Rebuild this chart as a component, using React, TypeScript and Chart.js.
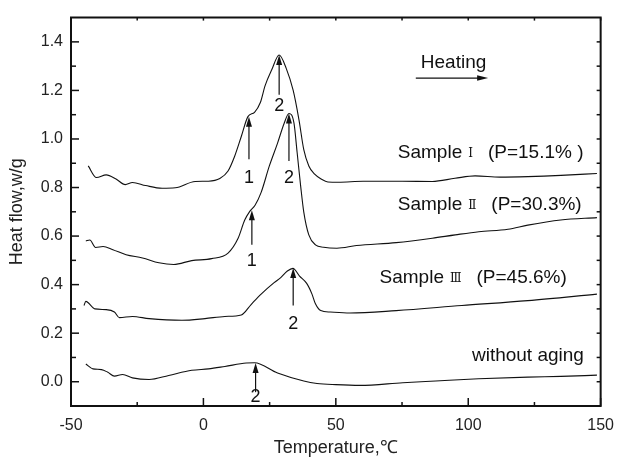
import React, { useEffect, useRef } from "react";
import { Chart, registerables } from "chart.js";

Chart.register(...registerables);

const FONT = "'Liberation Sans', Arial, Helvetica, sans-serif";
const SERIF = "'DejaVu Serif', 'Liberation Serif', serif";
const INK = "#111111";

// Axis ticks
const xTickValues = [-50, 0, 50, 100, 150];
const xMinorTickValues = [-25, 25, 75, 125];
const yTickValues = [0, 0.2, 0.4, 0.6, 0.8, 1.0, 1.2, 1.4];
const yMinorTickValues = [0.1, 0.3, 0.5, 0.7, 0.9, 1.1, 1.3];

// Sample I (P=15.1%)
const s1T = [-43.5, -40.4, -36.7, -33.0, -29.5, -26.8, -21.8, -15.6, -10.6, -3.1, 1.9, 6.2, 9.3, 11.8, 14.3, 16.8, 19.3, 21.5, 23.3, 25.8, 28.6, 31.3, 33.9, 36.1, 37.9, 39.8, 42.0, 44.5, 47.0, 51.0, 60.3, 75.0, 86.4, 95.0, 102.6, 112.0, 122.5, 135.0, 148.6];
const s1H = [0.889, 0.841, 0.852, 0.835, 0.812, 0.821, 0.808, 0.797, 0.799, 0.825, 0.826, 0.837, 0.868, 0.929, 1.010, 1.092, 1.110, 1.150, 1.220, 1.285, 1.346, 1.290, 1.200, 1.078, 0.956, 0.889, 0.855, 0.835, 0.823, 0.822, 0.826, 0.826, 0.825, 0.838, 0.848, 0.843, 0.845, 0.850, 0.858];

// Sample II (P=30.3%)
const s2T = [-44.4, -42.9, -40.7, -37.9, -34.2, -29.2, -23.0, -16.8, -11.2, -4.4, 3.1, 9.3, 13.1, 15.6, 17.5, 19.5, 21.8, 24.9, 28.0, 30.5, 32.3, 34.2, 35.4, 36.7, 37.9, 39.8, 42.3, 45.4, 50.4, 57.8, 72.8, 86.4, 95.1, 104.0, 115.0, 122.5, 134.9, 148.6];
const s2H = [0.580, 0.584, 0.553, 0.557, 0.544, 0.523, 0.510, 0.490, 0.483, 0.499, 0.507, 0.530, 0.591, 0.666, 0.702, 0.727, 0.780, 0.889, 0.983, 1.065, 1.105, 1.065, 0.943, 0.808, 0.699, 0.605, 0.564, 0.554, 0.550, 0.561, 0.573, 0.591, 0.605, 0.618, 0.628, 0.645, 0.666, 0.676];

// Sample III (P=45.6%)
const s3T = [-45.1, -44.4, -41.0, -36.7, -33.6, -31.7, -26.8, -20.5, -8.1, 0.6, 8.1, 14.3, 18.0, 21.8, 26.7, 29.2, 31.7, 33.8, 36.3, 39.0, 41.0, 42.3, 44.3, 47.9, 55.3, 72.8, 97.6, 122.5, 148.6];
const s3H = [0.314, 0.331, 0.300, 0.297, 0.287, 0.264, 0.269, 0.260, 0.253, 0.260, 0.269, 0.275, 0.318, 0.361, 0.408, 0.429, 0.456, 0.467, 0.435, 0.405, 0.361, 0.321, 0.293, 0.287, 0.283, 0.293, 0.314, 0.334, 0.361];

// Without aging
const s0T = [-44.4, -41.7, -38.5, -36.1, -33.6, -30.5, -26.8, -20.5, -13.1, -4.4, 1.9, 8.1, 16.2, 19.3, 28.0, 37.9, 42.9, 50.0, 59.1, 75.3, 87.7, 103.9, 122.5, 135.0, 148.6];
const s0H = [0.073, 0.053, 0.050, 0.039, 0.023, 0.030, 0.016, 0.009, 0.026, 0.047, 0.053, 0.063, 0.077, 0.078, 0.036, 0.003, -0.007, -0.012, -0.015, -0.004, 0.003, 0.012, 0.019, 0.022, 0.027];

// Peak markers (temperature, arrow tip, arrow base, label, label level)
const peakT = [28.6, 17.2, 32.3, 18.3, 33.9, 19.7];
const peakTip = [1.346, 1.092, 1.105, 0.706, 0.469, 0.077];
const peakBase = [1.182, 0.916, 0.909, 0.564, 0.314, -0.043];
const peakLabel = ["2", "1", "2", "1", "2", "2"];
const peakLabelH = [1.134, 0.841, 0.841, 0.497, 0.239, -0.065];

// Curve labels
const curvePrefix = ["Sample", "Sample", "Sample", "without aging"];
const curveNumeral = ["\u2160", "\u2161", "\u2162", ""];
const curveSuffix = ["(P=15.1% )", "(P=30.3%)", "(P=45.6%)", ""];
const curveLabelT = [73.4, 73.4, 66.5, 101.4];
const curveLabelH = [0.943, 0.730, 0.429, 0.105];

// Heating arrow
const heatingText = "Heating";
const heatingTextT = 82.1;
const heatingTextH = 1.312;
const heatingArrowT = [80.2, 107.5];
const heatingArrowH = 1.251;

const decorPlugin = {
  id: "decor",
  afterDatasetsDraw(chart: any) {
    const { ctx, chartArea } = chart;
    const xs = chart.scales.x;
    const ys = chart.scales.y;
    const { left, right, top, bottom } = chartArea;
    ctx.save();
    ctx.strokeStyle = INK;
    ctx.fillStyle = INK;
    ctx.lineCap = "butt";

    // frame
    ctx.lineWidth = 2;
    ctx.beginPath();
    ctx.moveTo(left, top);
    ctx.lineTo(right, top);
    ctx.lineTo(right, bottom);
    ctx.lineTo(left, bottom);
    ctx.closePath();
    ctx.stroke();

    ctx.lineWidth = 1.5;
    const line = (x1: number, y1: number, x2: number, y2: number) => {
      ctx.beginPath();
      ctx.moveTo(x1, y1);
      ctx.lineTo(x2, y2);
      ctx.stroke();
    };
    xTickValues.forEach((v) => {
      const px = xs.getPixelForValue(v);
      line(px, bottom, px, bottom - 8);
      line(px, top, px, top + 3);
    });
    xMinorTickValues.forEach((v) => {
      const px = xs.getPixelForValue(v);
      line(px, bottom, px, bottom - 4);
      line(px, top, px, top + 3);
    });
    yTickValues.forEach((v) => {
      const py = ys.getPixelForValue(v);
      line(left, py, left + 8, py);
      line(right, py, right - 4, py);
    });
    yMinorTickValues.forEach((v) => {
      const py = ys.getPixelForValue(v);
      line(left, py, left + 5, py);
      line(right, py, right - 4, py);
    });

    // peak arrows
    ctx.lineWidth = 1.2;
    peakT.forEach((t, i) => {
      const px = xs.getPixelForValue(t);
      const pTip = ys.getPixelForValue(peakTip[i]);
      const pBase = ys.getPixelForValue(peakBase[i]);
      line(px, pBase, px, pTip + 8);
      ctx.beginPath();
      ctx.moveTo(px, pTip);
      ctx.lineTo(px - 3, pTip + 10);
      ctx.lineTo(px + 3, pTip + 10);
      ctx.closePath();
      ctx.fill();
      ctx.font = `18px ${FONT}`;
      ctx.textAlign = "center";
      ctx.textBaseline = "middle";
      ctx.fillText(peakLabel[i], px, ys.getPixelForValue(peakLabelH[i]));
    });

    // curve labels
    ctx.textAlign = "left";
    ctx.textBaseline = "middle";
    curvePrefix.forEach((s, i) => {
      const x0 = xs.getPixelForValue(curveLabelT[i]);
      const y0 = ys.getPixelForValue(curveLabelH[i]);
      ctx.font = `19px ${FONT}`;
      ctx.fillText(s, x0, y0);
      if (!curveNumeral[i]) return;
      let x = x0 + ctx.measureText(s).width + 6;
      ctx.font = `12px ${SERIF}`;
      ctx.fillText(curveNumeral[i], x, y0 + 1);
      x += ctx.measureText(curveNumeral[i]).width + 15;
      ctx.font = `19px ${FONT}`;
      ctx.fillText(curveSuffix[i], x, y0);
    });

    // heating
    ctx.font = `19px ${FONT}`;
    ctx.fillText(heatingText, xs.getPixelForValue(heatingTextT), ys.getPixelForValue(heatingTextH));
    const hx1 = xs.getPixelForValue(heatingArrowT[0]);
    const hx2 = xs.getPixelForValue(heatingArrowT[1]);
    const hy = ys.getPixelForValue(heatingArrowH);
    ctx.lineWidth = 1.2;
    line(hx1, hy, hx2 - 8, hy);
    ctx.beginPath();
    ctx.moveTo(hx2, hy);
    ctx.lineTo(hx2 - 11, hy - 2.8);
    ctx.lineTo(hx2 - 11, hy + 2.8);
    ctx.closePath();
    ctx.fill();

    ctx.restore();
  },
};

export default function App() {
  const ref = useRef<HTMLCanvasElement | null>(null);

  useEffect(() => {
    const canvas = ref.current;
    if (!canvas) return;
    const mk = (T: number[], H: number[]) => T.map((t, i) => ({ x: t, y: H[i] }));
    const ds = (label: string, T: number[], H: number[]) => ({
      label,
      data: mk(T, H),
      borderColor: INK,
      borderWidth: 1.1,
      pointRadius: 0,
      fill: false,
      cubicInterpolationMode: "monotone" as const,
    });
    const chart = new Chart(canvas, {
      type: "line",
      data: {
        datasets: [
          ds("Sample I", s1T, s1H),
          ds("Sample II", s2T, s2H),
          ds("Sample III", s3T, s3H),
          ds("without aging", s0T, s0H),
        ],
      },
      options: {
        animation: false,
        responsive: false,
        maintainAspectRatio: false,
        layout: { padding: { top: 12, right: 17, left: 0, bottom: 0 } },
        plugins: {
          legend: { display: false },
          tooltip: { enabled: false },
        },
        scales: {
          x: {
            type: "linear",
            min: -50,
            max: 150,
            afterBuildTicks: (s: any) => {
              s.ticks = xTickValues.map((v) => ({ value: v }));
            },
            afterFit: (s: any) => {
              s.height = 53;
            },
            grid: { display: false, drawTicks: false },
            border: { display: false },
            ticks: {
              font: { family: FONT, size: 16 },
              color: "#222",
              padding: 10,
              maxRotation: 0,
              autoSkip: false,
              callback: (v: any) => String(v),
            },
            title: {
              display: true,
              text: "Temperature,\u2103",
              font: { family: FONT, size: 18 },
              color: "#222",
              padding: { top: 0, bottom: 0 },
            },
          },
          y: {
            type: "linear",
            min: -0.1,
            max: 1.5,
            afterBuildTicks: (s: any) => {
              s.ticks = yTickValues.map((v) => ({ value: v }));
            },
            afterFit: (s: any) => {
              s.width = 71;
            },
            grid: { display: false, drawTicks: false },
            border: { display: false },
            ticks: {
              font: { family: FONT, size: 16 },
              color: "#222",
              padding: 8,
              autoSkip: false,
              callback: (v: any) => Number(v).toFixed(1),
            },
            title: {
              display: true,
              text: "Heat flow,w/g",
              font: { family: FONT, size: 18 },
              color: "#222",
              padding: { top: 6, bottom: 0 },
            },
          },
        },
      },
      plugins: [decorPlugin],
    });
    return () => chart.destroy();
  }, []);

  return (
    <div style={{ position: "absolute", left: 0, top: 0, width: 624, height: 459, background: "#fff" }}>
      <canvas ref={ref} width={624} height={459} style={{ display: "block" }} />
    </div>
  );
}
